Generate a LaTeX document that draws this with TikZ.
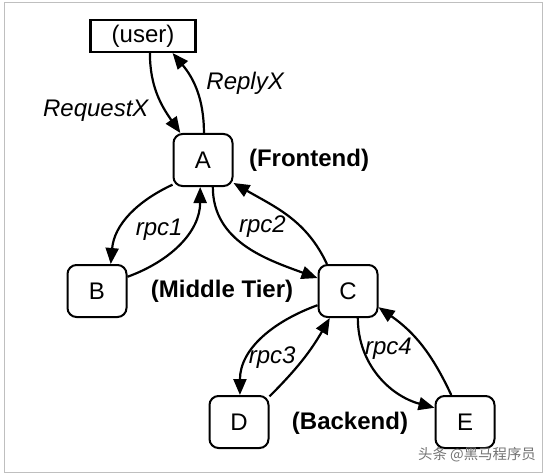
\documentclass[tikz,border=0pt]{standalone}
\usepackage{fontspec}
\setmainfont{Liberation Sans}
\newfontfamily\cjk{Noto Sans CJK SC}
\usetikzlibrary{arrows.meta}

\begin{document}
\begin{tikzpicture}[x=0.5pt, y=0.5pt, line width=1.1pt,
  font=\fontsize{12}{14}\selectfont,
  tier/.style={draw, line width=1pt, rounded corners=4.5pt,
    minimum width=29.5pt, minimum height=26pt, inner sep=0pt},
  tag/.style={font=\fontsize{12}{14}\selectfont\bfseries},
  msg/.style={font=\fontsize{12}{14}\selectfont\itshape, inner sep=1pt},
  >={Triangle[length=8pt, width=6.5pt]}]
\useasboundingbox (0,0) rectangle (546,-476);
\draw[black!25, line width=0.5pt] (4,-3) rectangle (542,-472);
\node[draw, line width=1.1pt, minimum width=52.5pt, minimum height=16pt, inner sep=0pt] (user) at (143,-36) {(user)};
\node[tier] (A) at (203,-160) {A};
\node[tier] (B) at (97,-291) {B};
\node[tier] (C) at (348,-291) {C};
\node[tier] (D) at (239,-422) {D};
\node[tier] (E) at (465,-422) {E};
\node[tag] (front) at (309,-160) {(Frontend)};
\node[tag] (middle) at (222,-291) {(Middle Tier)};
\node[tag] (back) at (350,-423) {(Backend)};
\node[text=black!55, font=\cjk\fontsize{7.2}{8}\selectfont] (mark) at (477,-455) {头条 @黑马程序员};
\path[->] (user.-68) edge[out=-90, in=125] node[msg, pos=0.55, anchor=north east, xshift=-4pt, yshift=1pt] {RequestX} (A.130)
          (A.88) edge[out=90, in=-50] node[msg, pos=0.5, anchor=west, xshift=3.5pt, yshift=3.5pt] {ReplyX} (user.-30)
          (A.219) edge[out=205, in=85] node[msg, pos=0.6, anchor=west, xshift=4.5pt, yshift=-3pt] {rpc1} (B.63)
          (B.25) edge[out=20, in=-90] (A.-96)
          (A.-70) edge[out=-90, in=160] node[msg, pos=0.4, anchor=west, xshift=0.5pt, yshift=5.5pt] {rpc2} (C.157)
          (C.128) edge[out=115, in=-30] (A.-37)
          (C.205) edge[out=200, in=90] node[msg, pos=0.6, anchor=west, xshift=-4.5pt, yshift=-5pt] {rpc3} (D.88)
          (D.40) edge[out=45, in=-120] (C.-124)
          (C.-70) edge[out=-90, in=165] node[msg, pos=0.3, anchor=west, xshift=-2pt, yshift=3.5pt] {rpc4} (E.155)
          (E.117) edge[out=115, in=-35] (C.-28);
\end{tikzpicture}
\end{document}
